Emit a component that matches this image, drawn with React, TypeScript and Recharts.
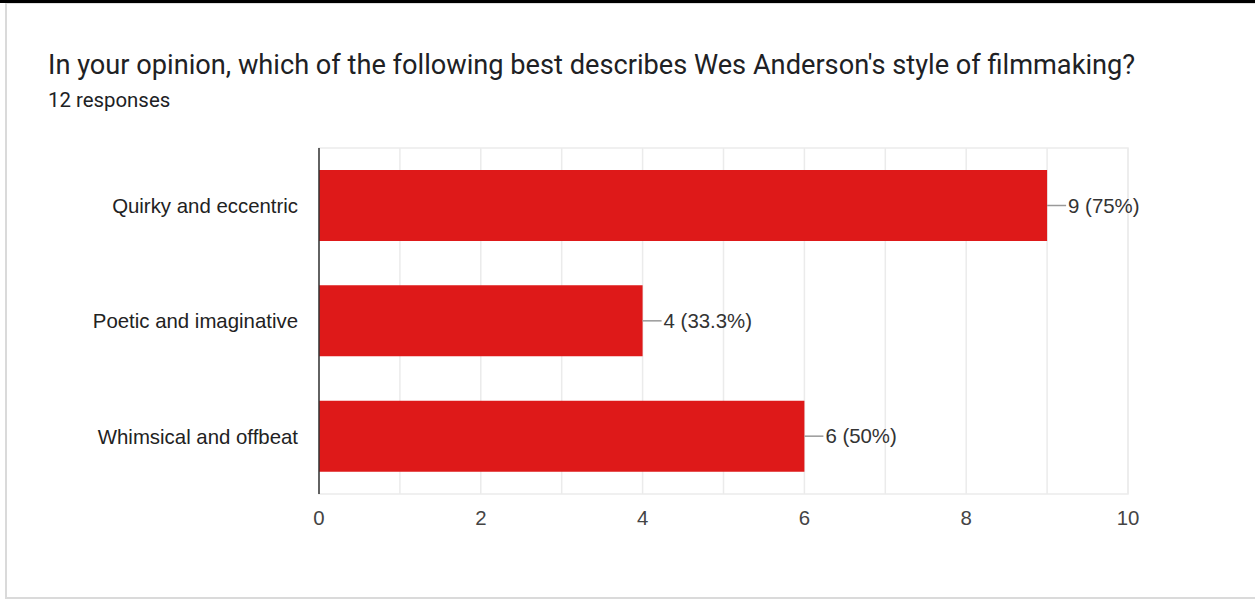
import React from 'react'
import {
  BarChart, Bar, XAxis, YAxis, CartesianGrid, ReferenceArea, LabelList,
} from 'recharts'

const CATEGORIES = ['Quirky and eccentric', 'Poetic and imaginative', 'Whimsical and offbeat']
const COUNTS = [9, 4, 6]
const PERCENTS = ['75%', '33.3%', '50%']
// gridlines every 1, labels every 2
const GRID_TICKS = [0, 1, 2, 3, 4, 5, 6, 7, 8, 9, 10]

const data = CATEGORIES.map((name, i) => ({
  name,
  count: COUNTS[i],
  label: `${COUNTS[i]} (${PERCENTS[i]})`,
}))

const FONT = '"Liberation Sans", Arial, sans-serif'
const FS = 20.4

function ValueLabel(props: any) {
  const { x, y, width, height, value } = props
  const end = x + width
  const cy = y + height / 2
  return (
    <g>
      <line x1={end} y1={cy} x2={end + 19} y2={cy} stroke="#999" strokeWidth={1.5} />
      <text x={end + 21} y={cy} dominantBaseline="central" fontSize={FS} fontFamily={FONT} fill="#333">
        {value}
      </text>
    </g>
  )
}

export default function App() {
  return (
    <div style={{ position: 'fixed', left: 0, top: 0, width: 1255, height: 599, background: '#fff', overflow: 'hidden' }}>
      <div style={{ position: 'absolute', left: 0, top: 0, width: 1255, height: 3, background: '#000' }} />
      <div style={{
        position: 'absolute', left: 5, top: 3, width: 1270, height: 593,
        borderLeft: '2px solid #dadada', borderTop: '1px solid #e0e0e0', borderBottom: '2px solid #dadada',
      }} />
      <BarChart
        width={1255}
        height={599}
        data={data}
        layout="vertical"
        margin={{ top: 148, right: 127, bottom: 75, left: 19 }}
        style={{ position: 'absolute', left: 0, top: 0 }}
      >
        <CartesianGrid horizontal={false} stroke="#ebebeb" strokeWidth={1.5} />
        <ReferenceArea x1={0} x2={10} fill="none" stroke="#ebebeb" strokeWidth={1.5} ifOverflow="visible" />
        <XAxis
          type="number"
          domain={[0, 10]}
          ticks={GRID_TICKS}
          interval={0}
          tickFormatter={(v: number) => (v % 2 === 0 ? String(v) : '')}
          axisLine={false}
          tickLine={false}
          tickSize={0}
          tickMargin={17}
          height={30}
          tick={{ fontSize: FS, fill: '#444', fontFamily: FONT }}
        />
        <YAxis
          type="category"
          dataKey="name"
          width={300}
          axisLine={{ stroke: '#333', strokeWidth: 1.5 }}
          tickLine={false}
          tickSize={0}
          tickMargin={21}
          tick={{ fontSize: FS, fill: '#222', fontFamily: FONT }}
        />
        <Bar dataKey="count" fill="#de1919" barSize={71} isAnimationActive={false}>
          <LabelList dataKey="label" content={<ValueLabel />} />
        </Bar>
      </BarChart>
      <div style={{
        position: 'absolute', left: 48, top: 48, fontFamily: 'Roboto, sans-serif',
        fontSize: 27.2, color: '#202124', whiteSpace: 'nowrap', lineHeight: '34px',
      }}>
        In your opinion, which of the following best describes Wes Anderson's style of filmmaking?
      </div>
      <div style={{
        position: 'absolute', left: 48, top: 89, fontFamily: 'Roboto, sans-serif',
        fontSize: 20.4, color: '#202124', whiteSpace: 'nowrap', lineHeight: '22px',
      }}>
        12 responses
      </div>
    </div>
  )
}
